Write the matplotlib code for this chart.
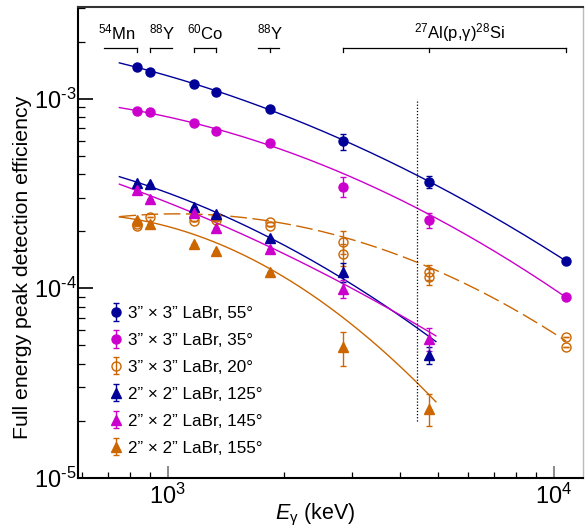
import numpy as np
import matplotlib
matplotlib.use("Agg")
import matplotlib.pyplot as plt
from matplotlib.transforms import blended_transform_factory
from matplotlib.ticker import LogLocator, NullFormatter, FixedLocator, FixedFormatter

plt.rcParams['font.family'] = ['Liberation Sans', 'DejaVu Sans']
plt.rcParams['mathtext.fontset'] = 'custom'
plt.rcParams['mathtext.rm'] = 'Liberation Sans'
plt.rcParams['mathtext.it'] = 'Liberation Sans:italic'
plt.rcParams['mathtext.bf'] = 'Liberation Sans:bold'

# ---------------- data ----------------
E_3x3 = [835, 898, 1173, 1332, 1836, 2839, 4743, 10763]
E_2x2 = [835, 898, 1173, 1332, 1836, 2839, 4743]

eff_55 = [1.48e-3, 1.39e-3, 1.196e-3, 1.084e-3, 8.88e-4, 5.95e-4, 3.65e-4, 1.39e-4]
err_55 = [0, 0, 0, 0, 0, 5.7e-5, 2.6e-5, 3e-6]
eff_35 = [8.64e-4, 8.47e-4, 7.44e-4, 6.72e-4, 5.81e-4, 3.44e-4, 2.28e-4, 9.0e-5]
err_35 = [0, 0, 0, 0, 0, 4.1e-5, 2.0e-5, 2e-6]

E_20 = [835, 835, 898, 1173, 1173, 1332, 1332, 1836, 1836, 2839, 2839, 4743, 4743, 10763, 10763]
eff_20 = [2.19e-4, 2.12e-4, 2.39e-4, 2.37e-4, 2.27e-4, 2.39e-4, 2.29e-4, 2.23e-4, 2.14e-4,
          1.76e-4, 1.51e-4, 1.215e-4, 1.15e-4, 5.54e-5, 4.9e-5]
err_20 = [0, 0, 0, 0, 0, 0, 0, 0, 0, 2.5e-5, 2.0e-5, 1.1e-5, 1.1e-5, 0, 0]

eff_125 = [3.61e-4, 3.54e-4, 2.69e-4, 2.46e-4, 1.85e-4, 1.215e-4, 4.45e-5]
err_125 = [0, 0, 0, 0, 0, 1.4e-5, 4.7e-6]
eff_145 = [3.3e-4, 2.96e-4, 2.49e-4, 2.09e-4, 1.61e-4, 9.95e-5, 5.4e-5]
err_145 = [0, 0, 0, 0, 0, 1.1e-5, 7.5e-6]
eff_155 = [2.3e-4, 2.19e-4, 1.71e-4, 1.57e-4, 1.215e-4, 4.9e-5, 2.31e-5]
err_155 = [0, 0, 0, 0, 0, 1.0e-5, 4.4e-6]

# fitted efficiency curves at a few energies
Efit_3x3 = [750, 1173, 1836, 2839, 4743, 10763]
fit_55 = [1.543e-3, 1.196e-3, 8.89e-4, 6.0e-4, 3.66e-4, 1.394e-4]
fit_35 = [8.89e-4, 7.5e-4, 5.80e-4, 3.97e-4, 2.44e-4, 8.99e-5]
fit_20 = [2.39e-4, 2.44e-4, 2.27e-4, 1.91e-4, 1.26e-4, 5.29e-5]
Efit_2x2 = [750, 1173, 1836, 2839, 4743]
fit_125 = [3.93e-4, 2.72e-4, 1.89e-4, 1.129e-4, 5.55e-5]
fit_145 = [3.54e-4, 2.49e-4, 1.647e-4, 1.063e-4, 5.9e-5]
fit_155 = [2.39e-4, 1.86e-4, 1.356e-4, 6.66e-5, 2.79e-5]

labels = ["3\u201d \u00d7 3\u201d LaBr, 55\u00b0",
          "3\u201d \u00d7 3\u201d LaBr, 35\u00b0",
          "3\u201d \u00d7 3\u201d LaBr, 20\u00b0",
          "2\u201d \u00d7 2\u201d LaBr, 125\u00b0",
          "2\u201d \u00d7 2\u201d LaBr, 145\u00b0",
          "2\u201d \u00d7 2\u201d LaBr, 155\u00b0"]

xtick_labels = ["$10^{3}$", "$10^{4}$"]
ytick_labels = ["$10^{\u20105}$", "$10^{\u20104}$", "$10^{\u20103}$"]

navy = "#000099"
mag = "#CC00CC"
orng = "#CC6600"

fig = plt.figure(figsize=(5.85, 5.27), dpi=100)
ax = fig.add_axes([77.7 / 585, 1 - 477.7 / 527, (583 - 77.7) / 585, (477.7 - 7) / 527])
ax.set_xscale('log')
ax.set_yscale('log')
ax.set_xlim(585, 11900)
ax.set_ylim(1e-5, 3.05e-3)


def curve(Es, vals, e0, e1, color, **kw):
    p = np.polyfit(np.log10(Es), np.log10(vals), 2)
    u = np.linspace(np.log10(e0), np.log10(e1), 200)
    ax.plot(10 ** u, 10 ** np.polyval(p, u), color=color, lw=1.0, **kw)


curve(Efit_3x3, fit_55, 750, 10763, navy)
curve(Efit_3x3, fit_35, 750, 10763, mag)
curve(Efit_3x3, fit_20, 750, 10763, orng, dashes=(12, 4))
curve(Efit_2x2, fit_125, 750, 4950, navy)
curve(Efit_2x2, fit_145, 750, 4950, mag)
curve(Efit_2x2, fit_155, 750, 4950, orng)

ekw = dict(linestyle='none', capsize=2, elinewidth=1.0, capthick=1.0, markersize=6.5)
h = []
h.append(ax.errorbar(E_3x3, eff_55, yerr=err_55, marker='o', color=navy, **ekw))
h.append(ax.errorbar(E_3x3, eff_35, yerr=err_35, marker='o', color=mag, **ekw))
h.append(ax.errorbar(E_20, eff_20, yerr=err_20, marker='o', color=orng, mfc='none',
                     mew=1.0, **ekw))
h.append(ax.errorbar(E_2x2, eff_125, yerr=err_125, marker='^', color=navy, **ekw))
h.append(ax.errorbar(E_2x2, eff_145, yerr=err_145, marker='^', color=mag, **ekw))
h.append(ax.errorbar(E_2x2, eff_155, yerr=err_155, marker='^', color=orng, **ekw))

# dotted vertical line
ax.plot([4430, 4430], [2e-5, 1e-3], color='black', lw=0.9, ls=(0, (1, 1.5)))

# source brackets on top
tr = blended_transform_factory(ax.transData, ax.transAxes)
yb, yt = 0.9135, 0.905
brackets = [([684, 835], [835]), ([898, 1024], [898]), ([1173, 1332], [1173, 1332]),
            ([1716, 1945], [1836]), ([2839, 10763], [2839, 4743, 10763])]
for (xs, ticks) in brackets:
    ax.plot(xs, [yb, yb], color='black', lw=0.9, transform=tr, clip_on=False)
    for t in ticks:
        ax.plot([t, t], [yb, yt], color='black', lw=0.9, transform=tr, clip_on=False)
src = [(740, r"$^{54}$Mn"), (965, r"$^{88}$Y"), (1249, r"$^{60}$Co"), (1841, r"$^{88}$Y"),
       (5710, r"$^{27}$Al(p,γ)$^{28}$Si")]
for x, s in src:
    ax.text(x, 0.945, s, transform=tr, ha='center', va='center', fontsize=12)

# ticks
ax.xaxis.set_major_locator(FixedLocator([1e3, 1e4]))
ax.xaxis.set_major_formatter(FixedFormatter(xtick_labels))
ax.xaxis.set_minor_locator(LogLocator(base=10, subs=np.arange(2, 10)))
ax.xaxis.set_minor_formatter(NullFormatter())
ax.yaxis.set_major_locator(FixedLocator([1e-5, 1e-4, 1e-3]))
ax.yaxis.set_major_formatter(FixedFormatter(ytick_labels))
ax.yaxis.set_minor_locator(LogLocator(base=10, subs=np.arange(2, 10)))
ax.yaxis.set_minor_formatter(NullFormatter())
ax.tick_params(axis='both', which='both', direction='in', top=False, right=False,
               labelsize=17, color='black')
ax.tick_params(axis='y', which='major', length=11, width=1.2, pad=1)
ax.tick_params(axis='y', which='minor', length=5, width=0.9)
ax.tick_params(axis='x', which='major', length=9, width=1.2, pad=4, color='#777777')
ax.tick_params(axis='x', which='minor', length=4.5, width=0.9)

for s in ['left', 'bottom']:
    ax.spines[s].set_linewidth(1.5)
ax.spines['top'].set_linewidth(1.5)
ax.spines['top'].set_color('#333333')
ax.spines['right'].set_linewidth(1.0)
ax.spines['right'].set_color('#bbbbbb')

ax.set_ylabel("Full energy peak detection efficiency", fontsize=15.3, va='center')
ax.yaxis.set_label_coords(-0.11, 0.447)
ax.set_xlabel("$E_{\\mathrm{γ}}$ (keV)", fontsize=15.5, va='center')
ax.xaxis.set_label_coords(0.47, -0.079)

leg = ax.legend(h, labels, loc='lower left', bbox_to_anchor=(0.025, 0.003), frameon=False,
                fontsize=12.3, handlelength=0.6, handletextpad=0.4, labelspacing=0.7,
                borderaxespad=0.8)

fig.savefig("out.png", dpi=100)
